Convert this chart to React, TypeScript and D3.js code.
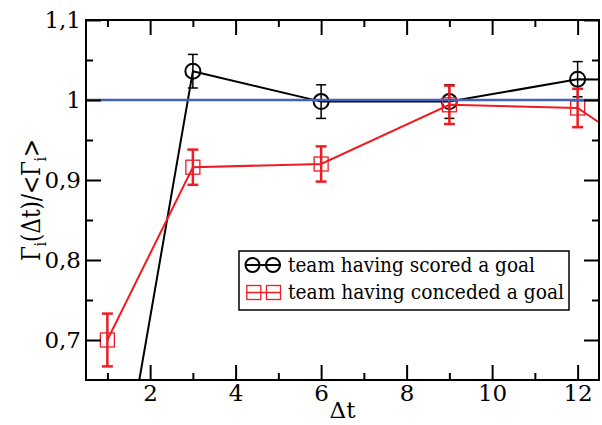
import * as d3 from "d3";
import { useEffect, useRef } from "react";

// Δt values and ratio Γi(Δt)/<Γi>
const steps = [1, 3, 6, 9, 12, 15];
const scored = [0.42, 1.036, 0.998, 0.998, 1.026, 1.024];
const scoredErr = [0.03, 0.021, 0.021, 0.021, 0.022, 0.022];
const conceded = [0.7, 0.916, 0.92, 0.994, 0.99, 0.882];
const concededErr = [0.033, 0.022, 0.022, 0.024, 0.024, 0.024];

const xMajor = [2, 4, 6, 8, 10, 12];
const xMinor = [1, 3, 5, 7, 9, 11];
const yMajor = [0.7, 0.8, 0.9, 1.0, 1.1];
const yMinor = [0.75, 0.85, 0.95, 1.05];

const legendLabels = ["team having scored a goal", "team having conceded a goal"];
const legendWidths = [247, 276];

const W = 602;
const H = 425;
const margin = { top: 20, right: 3, bottom: 45, left: 86 };

const RED = "#ee1c24";
const BLUE = "#4262c0";
const FONT = "DejaVu Serif";

const App = () => {
    const ref = useRef(null);

    useEffect(() => {
        document.body.style.margin = "0";
        const svg = d3.select(ref.current);
        svg.selectAll("*").remove();

        const x = d3.scaleLinear().domain([0.5, 12.5]).range([margin.left, W - margin.right]);
        const y = d3.scaleLinear().domain([0.65, 1.1]).range([H - margin.bottom, margin.top]);
        const [x0, x1] = x.range();
        const [y0, y1] = y.range();

        svg.append("rect").attr("width", W).attr("height", H).attr("fill", "white");

        svg.append("clipPath").attr("id", "plot-clip")
            .append("rect")
            .attr("x", x0).attr("y", y1)
            .attr("width", x1 - x0).attr("height", y0 - y1);

        const plot = svg.append("g").attr("clip-path", "url(#plot-clip)");

        const pts = (vals) => steps.map((s, i) => [s, vals[i]]);
        const line = d3.line().x(d => x(d[0])).y(d => y(d[1]));

        // scored series (black, circles)
        plot.append("path")
            .attr("d", line(pts(scored)))
            .attr("fill", "none").attr("stroke", "black").attr("stroke-width", 2);
        steps.forEach((s, i) => {
            const cx = x(s);
            const top = y(scored[i] + scoredErr[i]);
            const bot = y(scored[i] - scoredErr[i]);
            const g = plot.append("g").attr("stroke", "black").attr("stroke-width", 1.5);
            g.append("line").attr("x1", cx).attr("x2", cx).attr("y1", top).attr("y2", bot);
            g.append("line").attr("x1", cx - 5).attr("x2", cx + 5).attr("y1", top).attr("y2", top);
            g.append("line").attr("x1", cx - 5).attr("x2", cx + 5).attr("y1", bot).attr("y2", bot);
            plot.append("circle")
                .attr("cx", cx).attr("cy", y(scored[i])).attr("r", 7.5)
                .attr("fill", "none").attr("stroke", "black").attr("stroke-width", 2);
        });

        // conceded series (red, squares)
        plot.append("path")
            .attr("d", line(pts(conceded)))
            .attr("fill", "none").attr("stroke", RED).attr("stroke-width", 2);
        steps.forEach((s, i) => {
            const cx = x(s);
            const top = y(conceded[i] + concededErr[i]);
            const bot = y(conceded[i] - concededErr[i]);
            const g = plot.append("g").attr("stroke", RED).attr("stroke-width", 2.5);
            g.append("line").attr("x1", cx).attr("x2", cx).attr("y1", top).attr("y2", bot);
            g.append("line").attr("x1", cx - 5.5).attr("x2", cx + 5.5).attr("y1", top).attr("y2", top);
            g.append("line").attr("x1", cx - 5.5).attr("x2", cx + 5.5).attr("y1", bot).attr("y2", bot);
            plot.append("rect")
                .attr("x", cx - 7).attr("y", y(conceded[i]) - 7)
                .attr("width", 14).attr("height", 14)
                .attr("fill", "none").attr("stroke", RED).attr("stroke-width", 1.3);
        });

        // reference line at 1
        plot.append("line")
            .attr("x1", x0).attr("x2", x1).attr("y1", y(1)).attr("y2", y(1))
            .attr("stroke", BLUE).attr("stroke-width", 2.4);

        // axes, ticks pointing inward on all sides
        const fmt = d => String(d).replace(".", ",");
        const styleAxis = (g) => {
            g.attr("font-family", FONT).attr("font-size", 23);
            g.select(".domain").remove();
            g.selectAll("line").attr("stroke", "black").attr("stroke-width", 2);
            g.selectAll("text").attr("fill", "black");
        };

        svg.append("g").attr("transform", `translate(0,${y0})`)
            .call(d3.axisBottom(x).tickValues(xMajor).tickSize(-15).tickPadding(5).tickFormat(fmt))
            .call(styleAxis);
        svg.append("g").attr("transform", `translate(0,${y0})`)
            .call(d3.axisBottom(x).tickValues(xMinor).tickSize(-7).tickFormat(() => ""))
            .call(styleAxis);
        svg.append("g").attr("transform", `translate(0,${y1})`)
            .call(d3.axisTop(x).tickValues(xMajor).tickSize(-15).tickFormat(() => ""))
            .call(styleAxis);
        svg.append("g").attr("transform", `translate(0,${y1})`)
            .call(d3.axisTop(x).tickValues(xMinor).tickSize(-7).tickFormat(() => ""))
            .call(styleAxis);

        svg.append("g").attr("transform", `translate(${x0},0)`)
            .call(d3.axisLeft(y).tickValues(yMajor).tickSize(-15).tickPadding(5).tickFormat(fmt))
            .call(styleAxis);
        svg.append("g").attr("transform", `translate(${x0},0)`)
            .call(d3.axisLeft(y).tickValues(yMinor).tickSize(-7).tickFormat(() => ""))
            .call(styleAxis);
        svg.append("g").attr("transform", `translate(${x1},0)`)
            .call(d3.axisRight(y).tickValues(yMajor).tickSize(-15).tickFormat(() => ""))
            .call(styleAxis);
        svg.append("g").attr("transform", `translate(${x1},0)`)
            .call(d3.axisRight(y).tickValues(yMinor).tickSize(-7).tickFormat(() => ""))
            .call(styleAxis);

        svg.append("rect")
            .attr("x", x0).attr("y", y1)
            .attr("width", x1 - x0).attr("height", y0 - y1)
            .attr("fill", "none").attr("stroke", "black").attr("stroke-width", 2);

        // axis titles
        svg.append("text")
            .attr("x", (x0 + x1) / 2).attr("y", 418)
            .attr("text-anchor", "middle")
            .attr("font-family", FONT).attr("font-size", 23)
            .text("Δt");

        const yl = svg.append("text")
            .attr("transform", `translate(40,${(y0 + y1) / 2}) rotate(-90)`)
            .attr("text-anchor", "middle")
            .attr("font-family", FONT).attr("font-size", 26)
            .attr("textLength", 122).attr("lengthAdjust", "spacingAndGlyphs");
        yl.append("tspan").text("Γ");
        yl.append("tspan").attr("font-size", 16).attr("dy", 6).text("i");
        yl.append("tspan").attr("dy", -6).text("(Δt)/<Γ");
        yl.append("tspan").attr("font-size", 16).attr("dy", 6).text("i");
        yl.append("tspan").attr("dy", -6).text(">");

        // legend
        const lg = svg.append("g");
        lg.append("rect")
            .attr("x", 239).attr("y", 251).attr("width", 330).attr("height", 59)
            .attr("fill", "white").attr("stroke", "black").attr("stroke-width", 1.5);

        const ly1 = 265;
        lg.append("line").attr("x1", 245).attr("x2", 281).attr("y1", ly1).attr("y2", ly1)
            .attr("stroke", "black").attr("stroke-width", 2);
        [252.5, 273].forEach(cx => {
            lg.append("circle").attr("cx", cx).attr("cy", ly1).attr("r", 7)
                .attr("fill", "none").attr("stroke", "black").attr("stroke-width", 2);
        });

        const ly2 = 292.5;
        lg.append("line").attr("x1", 246).attr("x2", 281).attr("y1", ly2).attr("y2", ly2)
            .attr("stroke", RED).attr("stroke-width", 1.3);
        [253.8, 273.5].forEach(cx => {
            lg.append("rect").attr("x", cx - 7).attr("y", ly2 - 7).attr("width", 14).attr("height", 14)
                .attr("fill", "none").attr("stroke", RED).attr("stroke-width", 1.3);
        });

        legendLabels.forEach((t, i) => {
            lg.append("text")
                .attr("x", 288).attr("y", 272 + i * 27)
                .attr("font-family", FONT).attr("font-size", 19.5)
                .attr("textLength", legendWidths[i]).attr("lengthAdjust", "spacingAndGlyphs")
                .text(t);
        });
    }, []);

    return (
        <svg ref={ref} width={W} height={H}
            style={{ position: "absolute", left: 0, top: 0, display: "block" }} />
    );
};

export default App;
